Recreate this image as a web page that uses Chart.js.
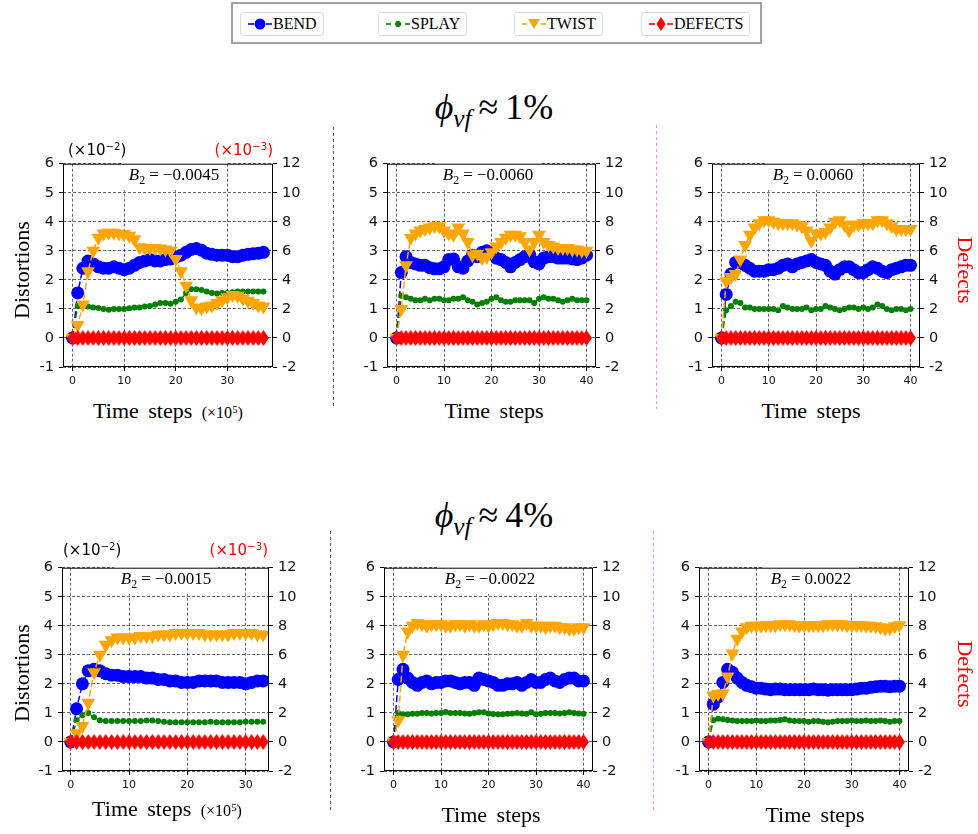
<!DOCTYPE html>
<html lang="en">

<head>
    <meta charset="utf-8" />
    <title>Distortions and defects vs time steps</title>
    <style>
        body { margin: 0; background: #fff; }
        #page { position: relative; width: 978px; height: 834px; overflow: hidden; font-family: "Liberation Serif", serif; color: #000; }
        canvas { position: absolute; }
        sup { font-size: 0.68em; vertical-align: 0.5em; line-height: 0; }
        sub { font-size: 0.7em; vertical-align: -0.3em; line-height: 0; }

        #legend { position: absolute; left: 231px; top: 2px; width: 527px; height: 38px; border: 2px solid #a0a0a0; }
        .item { position: absolute; top: 8px; height: 22px; border: 1px solid #d9d9d9; border-radius: 3px; display: flex; align-items: center; padding: 0 6px 0 7px; font-size: 16px; }
        .item svg { margin-right: 1px; }

        .title { position: absolute; left: 0; width: 988px; text-align: center; font-size: 36px; line-height: 36px; }
        .title .op { margin: 0 7px; }
        .ylab { position: absolute; font-size: 22px; line-height: 22px; white-space: nowrap; }
        .ylab.left { transform: translate(-50%, -50%) rotate(-90deg); }
        .ylab.right { transform: translate(-50%, -50%) rotate(90deg); color: #ff0000; }
        .xlab { position: absolute; transform: translateX(-50%); font-size: 22px; line-height: 22px; white-space: nowrap; word-spacing: 4px; }
        .xlab small { font-size: 16px; word-spacing: 0; }
        .offs { position: absolute; font-family: "DejaVu Sans", sans-serif; font-size: 15px; line-height: 15px; white-space: nowrap; }
        .offs.red { color: #ff0000; }
        .b2 { position: absolute; transform: translateX(-50%); height: 29px; line-height: 28px; padding: 0 7px; font-size: 17px; white-space: nowrap; }
        .b2 .op { margin: 0 4px; }
        .sep { position: absolute; width: 1px; }
        .sep.dark { background: repeating-linear-gradient(to bottom, #555 0 3px, transparent 3px 6px); }
        .sep.pink { background: repeating-linear-gradient(to bottom, #f08cf0 0 3px, transparent 3px 6px); }
    </style>
</head>

<body>
    <div id="page">

        <!-- shared legend -->
        <div id="legend">
            <div class="item" style="left:7px">
                <svg width="24" height="14"><line x1="0" y1="7" x2="6" y2="7" stroke="#0000ff" stroke-width="1.6"/><line x1="18" y1="7" x2="24" y2="7" stroke="#0000ff" stroke-width="1.6"/><circle cx="12" cy="7" r="5.5" fill="#0000ff"/></svg>BEND
            </div>
            <div class="item" style="left:145px">
                <svg width="24" height="14"><line x1="0" y1="7" x2="5" y2="7" stroke="#008000" stroke-width="1.6"/><line x1="19" y1="7" x2="24" y2="7" stroke="#008000" stroke-width="1.6"/><circle cx="12" cy="7" r="3" fill="#008000"/></svg>SPLAY
            </div>
            <div class="item" style="left:281px">
                <svg width="24" height="14"><line x1="0" y1="7" x2="5" y2="7" stroke="#ffa500" stroke-width="1.6"/><line x1="19" y1="7" x2="24" y2="7" stroke="#ffa500" stroke-width="1.6"/><polygon points="6,2 18,2 12,12" fill="#ffa500"/></svg>TWIST
            </div>
            <div class="item" style="left:408px">
                <svg width="24" height="16"><line x1="0" y1="8" x2="6" y2="8" stroke="#ff0000" stroke-width="1.6"/><line x1="18" y1="8" x2="24" y2="8" stroke="#ff0000" stroke-width="1.6"/><polygon points="12,1 16.5,8 12,15 7.5,8" fill="#ff0000"/></svg>DEFECTS
            </div>
        </div>

        <div class="title" style="top:89px"><i>ϕ</i><sub><i>vf</i></sub><span class="op">≈</span>1%</div>
        <div class="title" style="top:497px"><i>ϕ</i><sub><i>vf</i></sub><span class="op">≈</span>4%</div>

        <canvas id="Chart1" width="310" height="247" style="left:13px; top:150px;"></canvas>
        <canvas id="Chart2" width="309" height="247" style="left:337px; top:150px;"></canvas>
        <canvas id="Chart3" width="308" height="247" style="left:662px; top:150px;"></canvas>
        <canvas id="Chart4" width="307" height="247" style="left:12px; top:554px;"></canvas>
        <canvas id="Chart5" width="309" height="247" style="left:334px; top:554px;"></canvas>
        <canvas id="Chart6" width="310" height="247" style="left:649px; top:554px;"></canvas>

        <!-- separators -->
        <div class="sep dark" style="left:333px; top:127px; height:282px;"></div>
        <div class="sep pink" style="left:656px; top:125px; height:284px;"></div>
        <div class="sep dark" style="left:330px; top:531px; height:282px;"></div>
        <div class="sep pink" style="left:653px; top:531px; height:282px;"></div>

        <!-- annotations (the white box behind them is painted on the chart) -->
        <div class="b2" id="note1" style="left:174px; top:161px;"><i>B</i><sub>2</sub><span class="op">=</span>−0.0045</div>
        <div class="b2" id="note2" style="left:488px; top:161px;"><i>B</i><sub>2</sub><span class="op">=</span>−0.0060</div>
        <div class="b2" id="note3" style="left:813px; top:161px;"><i>B</i><sub>2</sub><span class="op">=</span>0.0060</div>
        <div class="b2" id="note4" style="left:166px; top:565px;"><i>B</i><sub>2</sub><span class="op">=</span>−0.0015</div>
        <div class="b2" id="note5" style="left:490px; top:565px;"><i>B</i><sub>2</sub><span class="op">=</span>−0.0022</div>
        <div class="b2" id="note6" style="left:811px; top:565px;"><i>B</i><sub>2</sub><span class="op">=</span>0.0022</div>

        <!-- axis texts -->
        <div class="offs" style="left:68px; top:143px;">(×10<sup>−2</sup>)</div>
        <div class="offs red" style="right:705px; top:143px;">(×10<sup>−3</sup>)</div>
        <div class="offs" style="left:63px; top:543px;">(×10<sup>−2</sup>)</div>
        <div class="offs red" style="right:710px; top:543px;">(×10<sup>−3</sup>)</div>

        <div class="ylab left" style="left:22px; top:270px;">Distortions</div>
        <div class="ylab left" style="left:22px; top:673px;">Distortions</div>
        <div class="ylab right" style="left:965px; top:270px;">Defects</div>
        <div class="ylab right" style="left:965px; top:674px;">Defects</div>

        <div class="xlab" style="left:168px; top:400px;">Time steps <small>(×10<sup>5</sup>)</small></div>
        <div class="xlab" style="left:494px; top:400px;">Time steps</div>
        <div class="xlab" style="left:811px; top:400px;">Time steps</div>
        <div class="xlab" style="left:167px; top:798px;">Time steps <small>(×10<sup>5</sup>)</small></div>
        <div class="xlab" style="left:491px; top:804px;">Time steps</div>
        <div class="xlab" style="left:815px; top:804px;">Time steps</div>
    </div>

    <script src="https://cdn.jsdelivr.net/npm/chart.js"></script>

    <script>
        // time steps (x10^5)
        const steps0to37 = [0, 1, 2, 3, 4, 5, 6, 7, 8, 9, 10, 11, 12, 13, 14, 15, 16, 17, 18, 19, 20, 21, 22, 23, 24, 25, 26, 27, 28, 29, 30, 31, 32, 33, 34, 35, 36, 37];
        const steps0to40 = [0, 1, 2, 3, 4, 5, 6, 7, 8, 9, 10, 11, 12, 13, 14, 15, 16, 17, 18, 19, 20, 21, 22, 23, 24, 25, 26, 27, 28, 29, 30, 31, 32, 33, 34, 35, 36, 37, 38, 39, 40];
        const steps0to33 = [0, 1, 2, 3, 4, 5, 6, 7, 8, 9, 10, 11, 12, 13, 14, 15, 16, 17, 18, 19, 20, 21, 22, 23, 24, 25, 26, 27, 28, 29, 30, 31, 32, 33];

        const xTicksShort = [0, 10, 20, 30];
        const xTicksLong = [0, 10, 20, 30, 40];
        const yTicksLeft = [-1, 0, 1, 2, 3, 4, 5, 6];
        const yTicksRight = [-2, 0, 2, 4, 6, 8, 10, 12];

        // phi_vf ~ 1 %, B2 = -0.0045
        const bendA = [0, 1.55, 2.4, 2.65, 2.55, 2.45, 2.4, 2.4, 2.45, 2.4, 2.35, 2.4, 2.5, 2.6, 2.65, 2.7, 2.65, 2.65, 2.7, 2.72, 2.78, 2.85, 2.95, 3.05, 3.08, 3.02, 2.92, 2.88, 2.85, 2.85, 2.85, 2.8, 2.8, 2.85, 2.88, 2.9, 2.92, 2.95];
        const splayA = [0, 1.1, 1.12, 1.08, 1.05, 1.03, 1.0, 0.97, 1.0, 1.0, 1.0, 1.02, 1.05, 1.05, 1.08, 1.1, 1.15, 1.2, 1.2, 1.18, 1.25, 1.32, 1.55, 1.68, 1.68, 1.65, 1.6, 1.55, 1.53, 1.55, 1.55, 1.57, 1.6, 1.6, 1.6, 1.6, 1.6, 1.6];
        const twistA = [0, 0.45, 1.15, 2.3, 3.0, 3.45, 3.6, 3.62, 3.62, 3.6, 3.58, 3.52, 3.4, 3.12, 3.1, 3.1, 3.1, 3.08, 3.05, 3.0, 2.72, 2.3, 1.8, 1.3, 1.05, 1.02, 1.08, 1.12, 1.2, 1.3, 1.4, 1.48, 1.45, 1.35, 1.28, 1.2, 1.12, 1.08];
        const defectsA = [0, 0, 0, 0, 0, 0, 0, 0, 0, 0, 0, 0, 0, 0, 0, 0, 0, 0, 0, 0, 0, 0, 0, 0, 0, 0, 0, 0, 0, 0, 0, 0, 0, 0, 0, 0, 0, 0];

        // phi_vf ~ 1 %, B2 = -0.0060
        const bendB = [0, 2.25, 2.8, 2.6, 2.55, 2.5, 2.5, 2.42, 2.38, 2.38, 2.45, 2.7, 2.72, 2.45, 2.4, 2.65, 2.85, 2.8, 2.95, 3.0, 2.95, 2.75, 2.7, 2.6, 2.45, 2.6, 2.7, 2.8, 2.88, 2.62, 2.55, 2.75, 2.8, 2.8, 2.75, 2.75, 2.75, 2.72, 2.7, 2.75, 2.85];
        const splayB = [0, 1.45, 1.4, 1.35, 1.3, 1.3, 1.35, 1.3, 1.35, 1.35, 1.3, 1.3, 1.35, 1.35, 1.4, 1.3, 1.25, 1.15, 1.2, 1.25, 1.35, 1.4, 1.3, 1.25, 1.25, 1.3, 1.3, 1.3, 1.3, 1.2, 1.35, 1.4, 1.35, 1.35, 1.3, 1.25, 1.3, 1.35, 1.3, 1.3, 1.3];
        const twistB = [0, 1.0, 2.5, 3.45, 3.6, 3.7, 3.75, 3.8, 3.85, 3.85, 3.7, 3.6, 3.55, 3.8, 3.6, 3.3, 2.85, 2.9, 2.75, 2.8, 2.95, 3.15, 3.3, 3.45, 3.55, 3.55, 3.5, 3.3, 3.05, 3.3, 3.55, 3.3, 3.2, 3.15, 3.1, 3.1, 3.1, 3.05, 3.05, 3.0, 3.0];
        const defectsB = [0, 0, 0, 0, 0, 0, 0, 0, 0, 0, 0, 0, 0, 0, 0, 0, 0, 0, 0, 0, 0, 0, 0, 0, 0, 0, 0, 0, 0, 0, 0, 0, 0, 0, 0, 0, 0, 0, 0, 0, 0];

        // phi_vf ~ 1 %, B2 = 0.0060
        const bendC = [0, 1.5, 2.2, 2.6, 2.6, 2.5, 2.4, 2.3, 2.3, 2.3, 2.35, 2.35, 2.4, 2.5, 2.55, 2.45, 2.55, 2.6, 2.65, 2.7, 2.6, 2.55, 2.5, 2.3, 2.2, 2.35, 2.45, 2.45, 2.35, 2.25, 2.25, 2.35, 2.45, 2.4, 2.3, 2.25, 2.35, 2.4, 2.45, 2.5, 2.5];
        const splayC = [0, 0.95, 1.1, 1.25, 1.2, 1.05, 1.05, 1.0, 1.0, 1.0, 1.0, 1.0, 0.95, 1.1, 1.05, 1.0, 1.0, 1.0, 1.05, 0.95, 1.0, 1.0, 1.1, 1.05, 1.0, 0.95, 1.0, 1.05, 1.05, 1.0, 1.05, 1.0, 1.05, 1.15, 1.1, 1.0, 0.95, 1.0, 1.0, 0.95, 1.0];
        const twistC = [0, 1.95, 2.1, 2.2, 2.7, 3.2, 3.55, 3.8, 3.95, 4.05, 4.05, 4.0, 3.95, 3.95, 3.95, 3.95, 3.9, 3.85, 3.7, 3.35, 3.6, 3.6, 3.65, 3.8, 4.0, 4.05, 3.9, 3.7, 3.9, 3.9, 3.95, 3.95, 3.95, 4.05, 4.05, 3.95, 3.85, 3.75, 3.75, 3.75, 3.75];
        const defectsC = [0, 0, 0, 0, 0, 0, 0, 0, 0, 0, 0, 0, 0, 0, 0, 0, 0, 0, 0, 0, 0, 0, 0, 0, 0, 0, 0, 0, 0, 0, 0, 0, 0, 0, 0, 0, 0, 0, 0, 0, 0];

        // phi_vf ~ 4 %, B2 = -0.0015
        const bendD = [0, 1.14, 2.0, 2.45, 2.5, 2.45, 2.35, 2.3, 2.3, 2.25, 2.25, 2.25, 2.25, 2.2, 2.2, 2.15, 2.15, 2.1, 2.1, 2.05, 2.05, 2.05, 2.1, 2.1, 2.1, 2.1, 2.05, 2.05, 2.05, 2.05, 2.0, 2.05, 2.1, 2.1];
        const splayD = [0, 0.75, 0.92, 1.0, 0.85, 0.75, 0.72, 0.72, 0.72, 0.72, 0.72, 0.72, 0.72, 0.74, 0.74, 0.72, 0.7, 0.68, 0.68, 0.68, 0.68, 0.68, 0.68, 0.68, 0.7, 0.68, 0.68, 0.68, 0.68, 0.68, 0.7, 0.7, 0.7, 0.7];
        const twistD = [0, 0.3, 0.55, 1.35, 2.4, 3.0, 3.35, 3.5, 3.6, 3.6, 3.6, 3.6, 3.65, 3.65, 3.65, 3.7, 3.7, 3.7, 3.75, 3.75, 3.75, 3.75, 3.75, 3.7, 3.7, 3.7, 3.7, 3.7, 3.75, 3.75, 3.75, 3.75, 3.7, 3.7];
        const defectsD = [0, 0, 0, 0, 0, 0, 0, 0, 0, 0, 0, 0, 0, 0, 0, 0, 0, 0, 0, 0, 0, 0, 0, 0, 0, 0, 0, 0, 0, 0, 0, 0, 0, 0];

        // phi_vf ~ 4 %, B2 = -0.0022
        const bendE = [0, 2.15, 2.5, 2.2, 2.05, 1.95, 2.05, 2.1, 2.0, 2.05, 2.05, 2.1, 2.1, 2.05, 2.0, 2.05, 2.05, 1.95, 2.2, 2.15, 2.1, 2.05, 1.95, 1.95, 2.0, 2.0, 2.05, 1.95, 2.05, 2.15, 2.05, 2.05, 2.15, 2.2, 2.1, 2.05, 2.15, 2.2, 2.2, 2.1, 2.1];
        const splayE = [0, 1.0, 0.95, 0.95, 0.97, 0.97, 1.0, 1.0, 0.98, 1.0, 1.0, 1.03, 1.0, 1.0, 1.0, 0.98, 0.97, 1.0, 1.02, 1.02, 0.98, 0.96, 0.95, 0.95, 0.97, 0.98, 1.0, 0.98, 0.97, 1.02, 0.95, 0.97, 1.0, 1.0, 1.0, 0.98, 1.0, 1.02, 1.0, 0.98, 0.97];
        const twistE = [0, 0.75, 3.0, 3.8, 4.0, 4.1, 4.05, 4.0, 4.05, 4.05, 4.05, 4.0, 4.0, 4.05, 4.05, 4.0, 4.05, 4.0, 4.0, 4.05, 4.0, 4.05, 4.1, 4.1, 4.05, 4.05, 4.0, 4.0, 4.1, 4.0, 4.0, 4.0, 3.95, 4.0, 4.0, 3.95, 3.95, 3.9, 3.9, 3.95, 3.95];
        const defectsE = [0, 0, 0, 0, 0, 0, 0, 0, 0, 0, 0, 0, 0, 0, 0, 0, 0, 0, 0, 0, 0, 0, 0, 0, 0, 0, 0, 0, 0, 0, 0, 0, 0, 0, 0, 0, 0, 0, 0, 0, 0];

        // phi_vf ~ 4 %, B2 = 0.0022
        const bendF = [0, 1.3, 1.55, 2.05, 2.5, 2.4, 2.2, 2.05, 1.95, 1.9, 1.85, 1.85, 1.82, 1.8, 1.82, 1.82, 1.8, 1.8, 1.8, 1.8, 1.8, 1.8, 1.82, 1.8, 1.8, 1.78, 1.8, 1.8, 1.8, 1.8, 1.8, 1.82, 1.85, 1.85, 1.88, 1.9, 1.92, 1.92, 1.9, 1.92, 1.92];
        const splayF = [0, 0.75, 0.8, 0.78, 0.76, 0.74, 0.72, 0.72, 0.72, 0.72, 0.74, 0.72, 0.72, 0.74, 0.74, 0.76, 0.78, 0.74, 0.72, 0.72, 0.72, 0.7, 0.72, 0.72, 0.7, 0.68, 0.7, 0.72, 0.72, 0.72, 0.74, 0.72, 0.72, 0.74, 0.72, 0.72, 0.74, 0.72, 0.7, 0.72, 0.72];
        const twistF = [0, 1.6, 1.65, 1.68, 2.25, 3.05, 3.55, 3.8, 3.95, 4.0, 4.0, 4.0, 4.02, 4.02, 4.02, 4.05, 4.05, 4.05, 4.02, 4.0, 4.02, 4.02, 4.02, 4.02, 4.02, 4.05, 4.05, 4.05, 4.05, 4.02, 4.02, 4.02, 4.02, 4.0, 4.0, 3.98, 3.95, 3.9, 3.92, 3.98, 4.02];
        const defectsF = [0, 0, 0, 0, 0, 0, 0, 0, 0, 0, 0, 0, 0, 0, 0, 0, 0, 0, 0, 0, 0, 0, 0, 0, 0, 0, 0, 0, 0, 0, 0, 0, 0, 0, 0, 0, 0, 0, 0, 0, 0];

        const BLUE = '#0000ff', GREEN = '#008000', ORANGE = '#ffa500', RED = '#ff0000';
        const TICK_FONT = 'DejaVu Sans';

        // thin red diamond used as the DEFECTS marker
        function ThinDiamond() {
            const c = document.createElement('canvas');
            c.width = 11;
            c.height = 16;
            const g = c.getContext('2d');
            g.fillStyle = RED;
            g.beginPath();
            g.moveTo(5.5, 0);
            g.lineTo(11, 8);
            g.lineTo(5.5, 16);
            g.lineTo(0, 8);
            g.closePath();
            g.fill();
            return c;
        }
        const diamond = ThinDiamond();

        // white box under the B2 note: covers the grid, stays under the data and the frame
        const noteBoxPlugin = {
            id: 'noteBox',
            beforeDatasetsDraw(chart, args, opts) {
                const el = document.getElementById(opts.target);
                if (!el) return;
                const r = el.getBoundingClientRect();
                const c = chart.canvas.getBoundingClientRect();
                const ctx = chart.ctx;
                ctx.save();
                ctx.fillStyle = '#fff';
                ctx.fillRect(r.left - c.left, r.top - c.top, r.width, r.height);
                ctx.restore();
            }
        };

        // box around the plot area (matplotlib style spines)
        const framePlugin = {
            id: 'frame',
            afterDraw(chart) {
                const { ctx, chartArea: a } = chart;
                ctx.save();
                ctx.strokeStyle = '#000';
                ctx.lineWidth = 1;
                ctx.strokeRect(a.left + 0.5, a.top + 0.5, a.right - a.left - 1, a.bottom - a.top - 1);
                ctx.restore();
            }
        };

        function fixedTicks(values) {
            return scale => { scale.ticks = values.map(v => ({ value: v })); };
        }

        function DrawPanel(id, note, steps, bend, splay, twist, defects, xMin, xMax, xTicks) {
            const ctx = document.getElementById(id).getContext('2d');
            const gridStyle = { color: 'rgba(0,0,0,0.75)', lineWidth: 0.8, drawTicks: true, tickLength: 4, tickColor: '#000', tickWidth: 1, tickBorderDash: [] };

            const data = {
                labels: steps,
                datasets: [{
                    label: 'BEND',
                    data: bend,
                    yAxisID: 'y',
                    borderColor: BLUE,
                    backgroundColor: BLUE,
                    borderWidth: 1.5,
                    borderDash: [7, 3],
                    pointStyle: 'circle',
                    pointRadius: 6.5,
                    pointBorderWidth: 0,
                    order: 4
                }, {
                    label: 'SPLAY',
                    data: splay,
                    yAxisID: 'y',
                    borderColor: GREEN,
                    backgroundColor: GREEN,
                    borderWidth: 1.5,
                    borderDash: [7, 3],
                    pointStyle: 'circle',
                    pointRadius: 3,
                    pointBorderWidth: 0,
                    order: 3
                }, {
                    label: 'TWIST',
                    data: twist,
                    yAxisID: 'y',
                    borderColor: ORANGE,
                    backgroundColor: ORANGE,
                    borderWidth: 1.5,
                    borderDash: [7, 3],
                    pointStyle: 'triangle',
                    rotation: 180,
                    pointRadius: 8,
                    pointBorderWidth: 0,
                    order: 2
                }, {
                    label: 'DEFECTS',
                    data: defects,
                    yAxisID: 'y2',
                    borderColor: RED,
                    backgroundColor: RED,
                    borderWidth: 1.5,
                    borderDash: [7, 3],
                    pointStyle: diamond,
                    pointRadius: 6,
                    order: 1
                }]
            };

            const config = {
                type: 'line',
                data: data,
                plugins: [noteBoxPlugin, framePlugin],
                options: {
                    responsive: false,
                    animation: false,
                    events: [],
                    layout: { padding: { top: 10, left: 0, right: 0, bottom: 0 } },
                    elements: { line: { tension: 0 } },
                    plugins: {
                        legend: { display: false },
                        tooltip: { enabled: false },
                        noteBox: { target: note }
                    },
                    scales: {
                        x: {
                            type: 'linear',
                            min: xMin,
                            max: xMax,
                            afterBuildTicks: fixedTicks(xTicks),
                            afterFit: s => { s.height = 30; },
                            grid: gridStyle,
                            border: { display: false, dash: [3, 2] },
                            ticks: { font: { family: TICK_FONT, size: 11 }, color: '#111', padding: 4, maxRotation: 0, autoSkip: false }
                        },
                        y: {
                            position: 'left',
                            min: -1,
                            max: 6,
                            afterBuildTicks: fixedTicks(yTicksLeft),
                            afterFit: s => { s.width = 50; },
                            grid: gridStyle,
                            border: { display: false, dash: [3, 2] },
                            ticks: { font: { family: TICK_FONT, size: 14.5 }, color: '#111', padding: 5 }
                        },
                        y2: {
                            position: 'right',
                            min: -2,
                            max: 12,
                            afterBuildTicks: fixedTicks(yTicksRight),
                            afterFit: s => { s.width = 50; },
                            grid: Object.assign({}, gridStyle, { drawOnChartArea: false }),
                            border: { display: false },
                            ticks: { font: { family: TICK_FONT, size: 14.5 }, color: '#111', padding: 5 }
                        }
                    }
                }
            };

            return new Chart(ctx, config);
        }

        var Chart1, Chart2, Chart3, Chart4, Chart5, Chart6;
        Chart1 = DrawPanel('Chart1', 'note1', steps0to37, bendA, splayA, twistA, defectsA, -1.85, 38.85, xTicksShort);
        Chart2 = DrawPanel('Chart2', 'note2', steps0to40, bendB, splayB, twistB, defectsB, -2, 42, xTicksLong);
        Chart3 = DrawPanel('Chart3', 'note3', steps0to40, bendC, splayC, twistC, defectsC, -2, 42, xTicksLong);
        Chart4 = DrawPanel('Chart4', 'note4', steps0to33, bendD, splayD, twistD, defectsD, -1.5, 34, xTicksShort);
        Chart5 = DrawPanel('Chart5', 'note5', steps0to40, bendE, splayE, twistE, defectsE, -2, 42, xTicksLong);
        Chart6 = DrawPanel('Chart6', 'note6', steps0to40, bendF, splayF, twistF, defectsF, -2, 42, xTicksLong);
    </script>

</body>

</html>
